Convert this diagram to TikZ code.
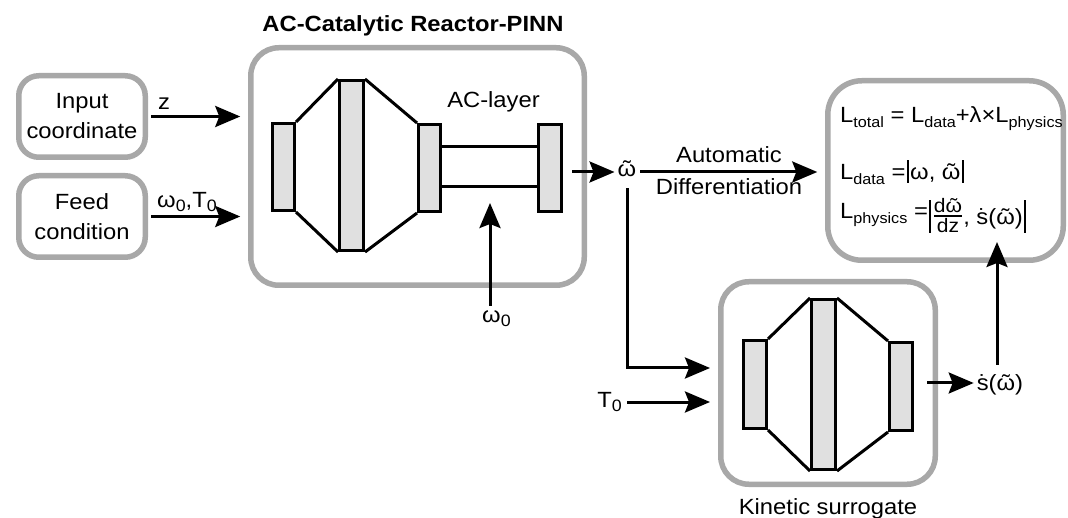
\documentclass[tikz,border=0pt]{standalone}
\usepackage{fontspec}
\usepackage{amsmath}
\setmainfont{Liberation Sans}[FakeStretch=1.08]
\usetikzlibrary{arrows.meta}
\definecolor{boxgray}{HTML}{A8A8A8}
\definecolor{layergray}{HTML}{E0E0E0}
\newcommand\wtil{\ooalign{ω\cr\hidewidth˜\hidewidth\cr}}
\newcommand\sdt{\ooalign{s\cr\hidewidth˙\hidewidth\cr}}
\newcommand\lsub[1]{\raisebox{-5pt}{\fontsize{15}{17}\selectfont #1}}
\newcommand\nsub[1]{\raisebox{-4pt}{\fontsize{16.5}{18}\selectfont #1}}
\newcommand\vbar[2]{\kern1.5pt\rule[-#1]{1.8pt}{#2}\kern1.5pt}
\begin{document}
\begin{tikzpicture}[x=1pt,y=-1pt,
  font=\fontsize{22}{30}\selectfont,
  gbox/.style={draw=boxgray, line width=5.5pt, rounded corners=#1, fill=white, inner sep=0pt},
  layer/.style={draw=black, line width=3pt, fill=layergray, inner sep=0pt},
  link/.style={draw=black, line width=3pt},
  arr/.style={draw=black, line width=3pt, -{Stealth[length=25pt,width=21pt,inset=4pt]}},
  txt/.style={inner sep=0pt, anchor=base},
  txtw/.style={inner sep=0pt, anchor=base west},
]
\useasboundingbox (0,0) rectangle (1068,518);
% boxes
\node[gbox=20pt, minimum width=126.5pt, minimum height=81.5pt, align=center] (inp) at (82,116.5) {Input\\coordinate};
\node[gbox=20pt, minimum width=126.5pt, minimum height=81.5pt, align=center] (feed) at (82,216.5) {Feed\\condition};
\node[gbox=28pt, minimum width=333.5pt, minimum height=237.5pt] (main) at (417.5,166.5) {};
\node[gbox=28pt, minimum width=214.5pt, minimum height=202.5pt] (kin) at (828,383) {};
\node[gbox=34pt, minimum width=235.5pt, minimum height=179.5pt] (loss) at (945.5,170.5) {};
% labels
\node[txt, font=\bfseries\fontsize{22}{30}\selectfont] (title) at (413,32) {AC-Catalytic Reactor-PINN};
\node[txt] (aclabel) at (493.5,108) {AC-layer};
\node[txt] (kinlabel) at (828,514) {Kinetic surrogate};
% AC-PINN network
\node[draw, line width=3pt, fill=white, minimum width=98pt, minimum height=40pt, inner sep=0pt] (tube) at (489.5,166.5) {};
\node[layer, minimum width=22pt, minimum height=87pt] (r1) at (283.5,167) {};
\node[layer, minimum width=24pt, minimum height=170pt] (r2) at (351.5,165.5) {};
\node[layer, minimum width=22pt, minimum height=87pt] (r3) at (429.5,168) {};
\node[layer, minimum width=23pt, minimum height=87pt] (r4) at (550,168) {};
\draw[link] (r1.north east) -- (r2.north west) (r1.south east) -- (r2.south west)
  (r2.north east) -- (r3.north west) (r2.south east) -- (r3.south west);
% kinetic network
\node[layer, minimum width=23pt, minimum height=88pt] (k1) at (755,384.5) {};
\node[layer, minimum width=24pt, minimum height=170pt] (k2) at (823.5,384.5) {};
\node[layer, minimum width=23pt, minimum height=88pt] (k3) at (901,386.5) {};
\draw[link] (k1.north east) -- (k2.north west) (k1.south east) -- (k2.south west)
  (k2.north east) -- (k3.north west) (k2.south east) -- (k3.south west);
% text labels
\node[txtw] (zl) at (158,110) {z};
\node[txtw] (wtl) at (157,208) {ω\nsub{0},T\nsub{0}};
\node[txt] (wt) at (627,177) {\wtil};
\node[txt] (autol) at (729,163) {Automatic};
\node[txt] (diffl) at (729,195) {Differentiation};
\node[txtw] (w0) at (482,323) {ω\nsub{0}};
\node[inner sep=0pt, anchor=base east] (t0) at (622,407) {T\nsub{0}};
\node[txt] (sd) at (1000,391) {\sdt(\wtil)};
% loss texts
\node[txtw] (lt) at (840,123) {L\lsub{total} = L\lsub{data}+λ×L\lsub{physics}};
\node[txtw] (ld) at (840,180) {L\lsub{data} =\vbar{3pt}{23pt}ω, \wtil\vbar{3pt}{23pt}};
\node[txtw] (lp) at (840,219) {L\lsub{physics} =\vbar{14pt}{33pt}\raisebox{-2pt}{$\genfrac{}{}{1.6pt}{1}{\mbox{\fontsize{19.5}{20}\selectfont d\wtil}}{\mbox{\fontsize{19.5}{20}\selectfont dz}}$}\raisebox{-6pt}{, \sdt(\wtil)}\vbar{14pt}{33pt}};
% coordinates
\coordinate (acout) at (572,172);
\coordinate (adin) at (640,172);
\coordinate (kin1) at (710,368);
\coordinate (kin2) at (710,402);
\coordinate (kout) at (927,383);
\coordinate (tubein) at (490,203);
\coordinate (sdtop) at (997,365);
\coordinate (lossin) at (997,242);
% arrows
\draw[arr, shorten <=3pt, shorten >=7.75pt] (inp.east) -- (inp.east -| main.west);
\draw[arr, shorten <=3pt, shorten >=7.75pt] (feed.east) -- (feed.east -| main.west);
\draw[arr, shorten >=3pt] (acout) -- (acout -| wt.west);
\draw[arr, shorten >=7.75pt] (adin) -- (adin -| loss.west);
\draw[arr, shorten <=11pt] (wt.south) |- (kin1);
\draw[arr, shorten <=5pt] (t0.east |- kin2) -- (kin2);
\draw[arr, shorten >=3pt] (kout) -- (kout -| sd.west);
\draw[arr, shorten <=5pt] (w0.north -| tubein) -- (tubein);
\draw[arr] (sdtop) -- (lossin);
\end{tikzpicture}
\end{document}
